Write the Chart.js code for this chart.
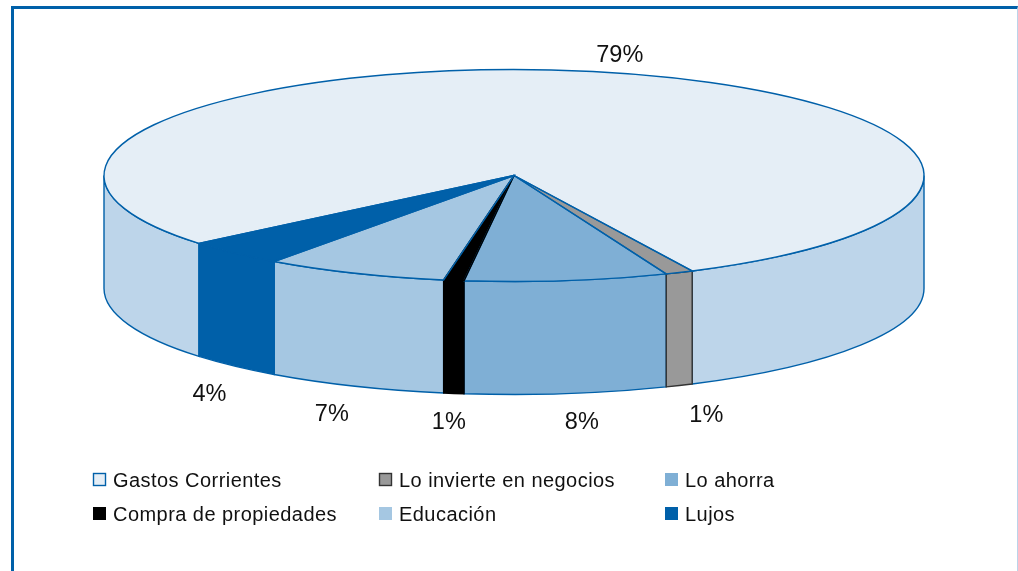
<!DOCTYPE html>
<html>
<head>
<meta charset="utf-8">
<title>Gastos</title>
<script src="https://cdn.jsdelivr.net/npm/chart.js@4"></script>
<style>
    html, body { margin: 0; background: #fff; overflow: hidden; }
    #marco { position: absolute; left: 11px; top: 6px; width: 1003px; height: 570px;
             border-left: 3px solid #0060a9; border-top: 3px solid #0060a9; border-right: 1px solid #bbd4ea; }
    #lienzo { position: absolute; left: 0; top: 0; width: 1018px; height: 571px; }
</style>
</head>
<body>
<div id="marco"></div>
<div id="lienzo"><canvas id="grafico"></canvas></div>
<script>
// Datos (los rotulos son los valores redondeados)
const categorias = ['Gastos Corrientes', 'Lo invierte en negocios', 'Lo ahorra', 'Compra de propiedades', 'Educación', 'Lujos'];
const valores = [78.9, 1.1, 8.0, 0.8, 7.2, 4.0];
const coloresTapa = ['#e5eef6', '#999999', '#7fafd5', '#000000', '#a5c7e2', '#0060a9'];
const coloresPared = ['#bdd5ea', '#999999', '#7fafd5', '#000000', '#a5c7e2', '#0060a9'];
const bordesPared = ['#0060a9', '#333333', '#0060a9', '#000000', '#0060a9', '#0060a9'];

// Geometria de la elipse en pantalla
const CX = 514, CY = 175.5, RX = 410, RY = 106, ALTO = 113;
const AZUL = '#0060a9';
const FUENTE = '"Liberation Sans", Arial, sans-serif';

// Desplazamiento de cada rotulo respecto al borde de su porcion
const ajusteRotulo = [[19, -16], [27, 30], [15, 29], [-5, 29], [-23, 28], [-25, 28]];
// Columnas y filas de la leyenda
const columnasLeyenda = [93, 379, 665];
const filasLeyenda = [480, 514];

function dibujarPared(ctx, a0, a1, i) {
    ctx.beginPath();
    ctx.ellipse(CX, CY, RX, RY, 0, a0, a1);
    ctx.ellipse(CX, CY + ALTO, RX, RY, 0, a1, a0, true);
    ctx.closePath();
    ctx.fillStyle = coloresPared[i];
    ctx.strokeStyle = bordesPared[i];
    ctx.lineWidth = 1.4;
    ctx.fill();
    ctx.stroke();
}

const pastel3d = {
    id: 'pastel3d',
    // Paredes laterales y luego la transformacion para aplastar la tapa
    beforeDatasetsDraw(chart) {
        const ctx = chart.ctx;
        const arcos = chart.getDatasetMeta(0).data;
        const orden = arcos.map((a, i) => i).sort((a, b) => (bordesPared[b] === AZUL) - (bordesPared[a] === AZUL));
        orden.forEach(i => {
            const a = arcos[i];
            // solo se ve la parte delantera de la elipse
            [0, 2 * Math.PI].forEach(base => {
                const ini = Math.max(a.startAngle, base);
                const fin = Math.min(a.endAngle, base + Math.PI);
                if (fin > ini) dibujarPared(ctx, ini, fin, i);
            });
        });
        const r = arcos[0].outerRadius;
        ctx.save();
        ctx.translate(CX, CY);
        ctx.scale(RX / r, RY / r);
        ctx.translate(-arcos[0].x, -arcos[0].y);
    },
    afterDatasetsDraw(chart) {
        const ctx = chart.ctx;
        ctx.restore();
        const arcos = chart.getDatasetMeta(0).data;

        // Contorno de la tapa, con grosor uniforme
        arcos.forEach((a, i) => {
            ctx.beginPath();
            ctx.moveTo(CX, CY);
            ctx.ellipse(CX, CY, RX, RY, 0, a.startAngle, a.endAngle);
            ctx.closePath();
            ctx.strokeStyle = coloresTapa[i] === '#000000' ? '#000000' : AZUL;
            ctx.lineWidth = 1.4;
            ctx.stroke();
        });

        // Rotulos de porcentaje
        ctx.font = '23.5px ' + FUENTE;
        ctx.fillStyle = '#111111';
        ctx.textAlign = 'center';
        ctx.textBaseline = 'middle';
        arcos.forEach((a, i) => {
            const medio = (a.startAngle + a.endAngle) / 2;
            const s = Math.sin(medio);
            const x = CX + RX * Math.cos(medio) + ajusteRotulo[i][0];
            const y = CY + RY * s + (s > 0 ? ALTO : 0) + ajusteRotulo[i][1];
            ctx.fillText(Math.round(valores[i]) + '%', x, y);
        });

        // Leyenda en tres columnas
        ctx.font = '20px ' + FUENTE;
        ctx.textAlign = 'left';
        ctx.letterSpacing = '0.45px';
        categorias.forEach((nombre, i) => {
            const x = columnasLeyenda[i % 3];
            const y = filasLeyenda[Math.floor(i / 3)];
            ctx.fillStyle = coloresTapa[i];
            ctx.fillRect(x, y - 7, 13, 13);
            if (i === 0 || i === 1) {
                ctx.strokeStyle = i === 0 ? AZUL : '#333333';
                ctx.lineWidth = 1.4;
                ctx.strokeRect(x + 0.5, y - 6.5, 12, 12);
            }
            ctx.fillStyle = '#111111';
            ctx.fillText(nombre, x + 20, y + 1);
        });
        ctx.letterSpacing = '0px';
    }
};

const grafico = new Chart(document.getElementById('grafico'), {
    type: 'pie',
    data: {
        labels: categorias,
        datasets: [{
            data: valores,
            backgroundColor: coloresTapa,
            borderWidth: 0
        }]
    },
    options: {
        responsive: true,
        maintainAspectRatio: false,
        animation: false,
        rotation: 230.2,
        layout: { padding: 0 },
        plugins: {
            legend: { display: false },
            tooltip: { enabled: false }
        }
    },
    plugins: [pastel3d]
});
</script>
</body>
</html>
